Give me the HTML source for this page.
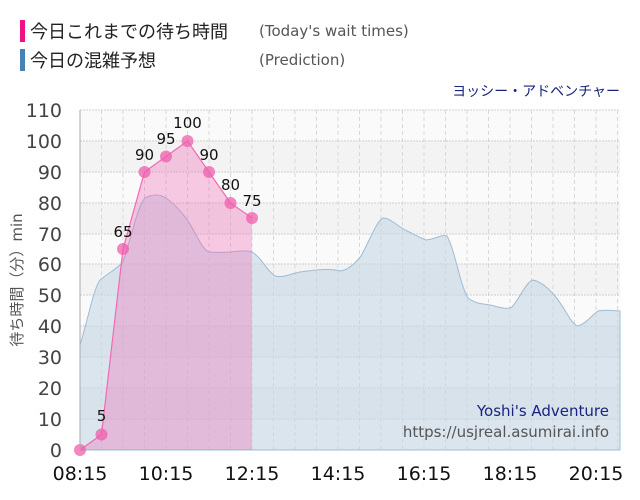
<!DOCTYPE html><html><head><meta charset="utf-8"><style>body{margin:0;background:#fff}svg{display:block;font-family:"DejaVu Sans","Noto Sans CJK JP",sans-serif}</style></head><body>
<svg width="640" height="500" viewBox="0 0 640 500">
<rect x="20" y="20" width="5" height="22" fill="#ee1188"/>
<text x="30" y="38" font-size="18" fill="#222" font-family="Noto Sans CJK JP, sans-serif">今日これまでの待ち時間</text>
<text x="259" y="36" font-size="15" fill="#555">(Today's wait times)</text>
<rect x="20" y="49" width="5" height="22" fill="#4682b4"/>
<text x="30" y="67" font-size="18" fill="#222" font-family="Noto Sans CJK JP, sans-serif">今日の混雑予想</text>
<text x="259" y="65" font-size="15" fill="#555">(Prediction)</text>
<text x="620" y="96" font-size="14" fill="#1a237e" text-anchor="end">ヨッシー・アドベンチャー</text>
<g>
<rect x="80" y="110" width="540" height="340" fill="#fafafa"/>
<rect x="80" y="141" width="540" height="31" fill="#f3f3f3"/>
<rect x="80" y="203" width="540" height="31" fill="#f3f3f3"/>
<rect x="80" y="264" width="540" height="31" fill="#f3f3f3"/>
<rect x="80" y="326" width="540" height="31" fill="#f3f3f3"/>
<rect x="80" y="388" width="540" height="31" fill="#f3f3f3"/>
</g>
<g stroke="#d8d8d8" stroke-dasharray="4,3">
<line x1="101.5" y1="110" x2="101.5" y2="450"/><line x1="123" y1="110" x2="123" y2="450"/><line x1="144.5" y1="110" x2="144.5" y2="450"/><line x1="166" y1="110" x2="166" y2="450"/><line x1="187.5" y1="110" x2="187.5" y2="450"/><line x1="209" y1="110" x2="209" y2="450"/><line x1="230.5" y1="110" x2="230.5" y2="450"/><line x1="252" y1="110" x2="252" y2="450"/><line x1="273.5" y1="110" x2="273.5" y2="450"/><line x1="295" y1="110" x2="295" y2="450"/><line x1="316.5" y1="110" x2="316.5" y2="450"/><line x1="338" y1="110" x2="338" y2="450"/><line x1="359.5" y1="110" x2="359.5" y2="450"/><line x1="381" y1="110" x2="381" y2="450"/><line x1="402.5" y1="110" x2="402.5" y2="450"/><line x1="424" y1="110" x2="424" y2="450"/><line x1="445.5" y1="110" x2="445.5" y2="450"/><line x1="467" y1="110" x2="467" y2="450"/><line x1="488.5" y1="110" x2="488.5" y2="450"/><line x1="510" y1="110" x2="510" y2="450"/><line x1="531.5" y1="110" x2="531.5" y2="450"/><line x1="553" y1="110" x2="553" y2="450"/><line x1="574.5" y1="110" x2="574.5" y2="450"/><line x1="596" y1="110" x2="596" y2="450"/><line x1="617.5" y1="110" x2="617.5" y2="450"/>
</g>
<g stroke="#cfcfcf" stroke-dasharray="2,1">
<line x1="80" y1="110" x2="620" y2="110"/><line x1="80" y1="141" x2="620" y2="141"/><line x1="80" y1="172" x2="620" y2="172"/><line x1="80" y1="203" x2="620" y2="203"/><line x1="80" y1="234" x2="620" y2="234"/><line x1="80" y1="264" x2="620" y2="264"/><line x1="80" y1="295" x2="620" y2="295"/><line x1="80" y1="326" x2="620" y2="326"/><line x1="80" y1="357" x2="620" y2="357"/><line x1="80" y1="388" x2="620" y2="388"/><line x1="80" y1="419" x2="620" y2="419"/>
</g>
<path d="M80,345 C88,320 93,290 100,280 C110,272 118,268 123,262 C132,235 138,205 145,198 C152,194 160,194 166,198 C176,205 184,215 190,224 C198,238 203,250 209,252 C218,253 225,252 231,252 C240,251 247,250 252,252 C262,258 266,270 275,276 C283,278 290,274 300,272 C315,270 330,268 341,271 C350,269 356,262 361,256 C370,240 376,222 383,218 C390,218 396,225 405,230 C414,234 420,238 426,240 C436,239 442,234 447,236 C455,250 460,285 468,298 C476,304 484,304 490,305 C500,307 506,310 512,307 C520,298 526,282 533,280 C542,282 550,290 555,296 C565,308 570,322 577,326 C585,325 592,315 598,311 C606,309 614,311 620,311 L620,450 L80,450 Z" fill="#c5d7e6" fill-opacity="0.6" stroke="#9fbcd4" stroke-width="1"/>
<path d="M80,450 L101.5,434.5 L123,249 L144.5,172 L166,156.5 L187.5,141 L209,172 L230.5,203 L252,218 L252,450 Z" fill="#f06ab4" fill-opacity="0.35" stroke="none"/>
<polyline points="80,450 101.5,434.5 123,249 144.5,172 166,156.5 187.5,141 209,172 230.5,203 252,218" fill="none" stroke="#f06ab4" stroke-width="1.2"/>
<g fill="#ef5fae" fill-opacity="0.75">
<circle cx="80" cy="450" r="6"/><circle cx="101.5" cy="434.5" r="6"/><circle cx="123" cy="249" r="6"/><circle cx="144.5" cy="172" r="6"/><circle cx="166" cy="156.5" r="6"/><circle cx="187.5" cy="141" r="6"/><circle cx="209" cy="172" r="6"/><circle cx="230.5" cy="203" r="6"/><circle cx="252" cy="218" r="6"/>
</g>
<g font-size="15" fill="#111" text-anchor="middle">
<text x="101.5" y="421">5</text><text x="123" y="237">65</text><text x="144.5" y="160">90</text><text x="166" y="144">95</text><text x="187.5" y="128">100</text><text x="209" y="160">90</text><text x="230.5" y="190">80</text><text x="252" y="206">75</text>
</g>
<line x1="80" y1="110" x2="80" y2="450" stroke="#aaa"/>
<g font-size="19" fill="#444" text-anchor="end">
<text x="62" y="117">110</text><text x="62" y="148">100</text><text x="62" y="179">90</text><text x="62" y="210">80</text><text x="62" y="241">70</text><text x="62" y="271">60</text><text x="62" y="302">50</text><text x="62" y="333">40</text><text x="62" y="364">30</text><text x="62" y="395">20</text><text x="62" y="426">10</text><text x="62" y="457">0</text>
</g>
<text transform="translate(22,280) rotate(-90)" font-size="15" fill="#555" text-anchor="middle">待ち時間（分）min</text>
<g font-size="19" fill="#111" text-anchor="middle">
<text x="80" y="480">08:15</text><text x="166" y="480">10:15</text><text x="252" y="480">12:15</text><text x="338" y="480">14:15</text><text x="424" y="480">16:15</text><text x="510" y="480">18:15</text><text x="596" y="480">20:15</text>
</g>
<text x="609" y="416" font-size="15" fill="#1a237e" text-anchor="end">Yoshi's Adventure</text>
<text x="609" y="437" font-size="15" fill="#555" text-anchor="end">https://usjreal.asumirai.info</text>
</svg></body></html>
